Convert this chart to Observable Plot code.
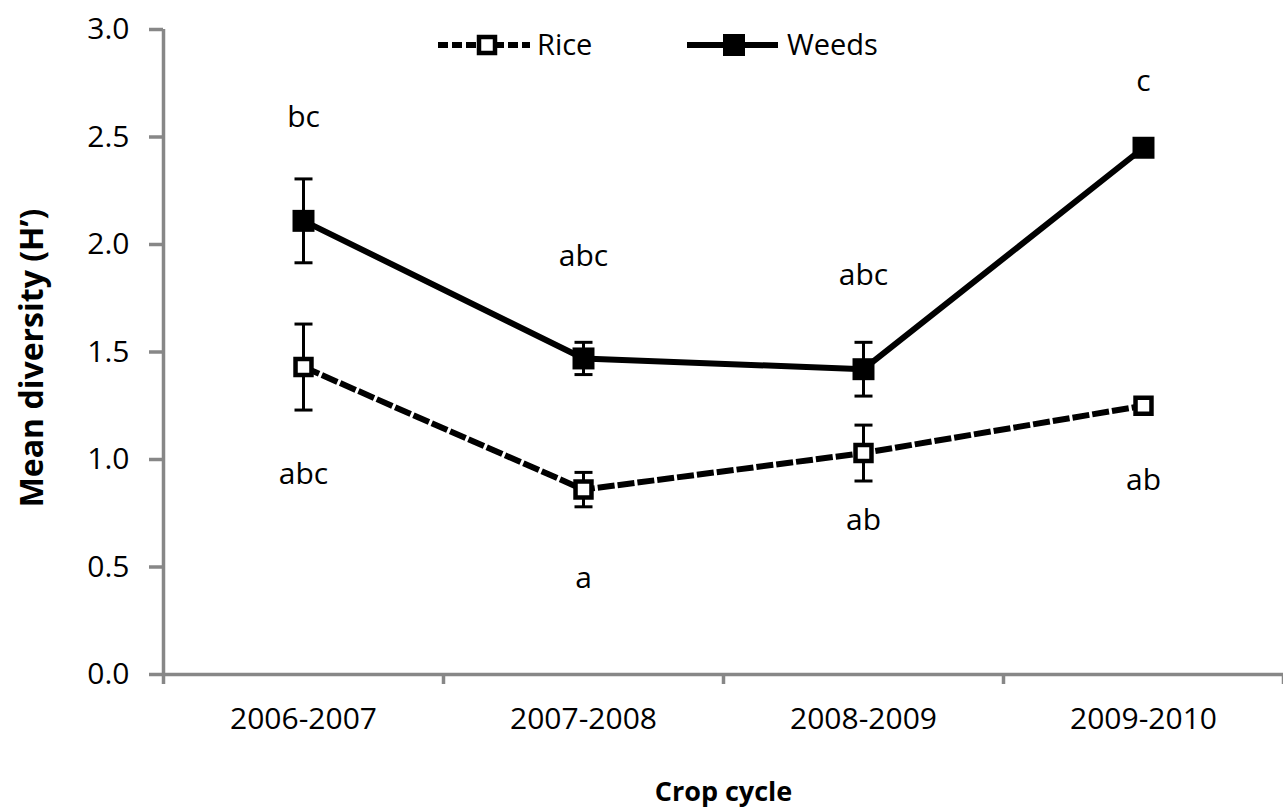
<!DOCTYPE html>
<html>
<head>
<meta charset="utf-8">
<script src="https://cdn.jsdelivr.net/npm/d3@7"></script>
<script src="https://cdn.jsdelivr.net/npm/@observablehq/plot@0.6"></script>
<style>
  html, body { margin: 0; padding: 0; background: #fff; }
  #wrap { position: relative; width: 1283px; height: 812px; }
  #legend { position: absolute; left: 0; top: 0; pointer-events: none; }
</style>
</head>
<body>
<div id="wrap"></div>
<script>
const categories = ["2006-2007", "2007-2008", "2008-2009", "2009-2010"];
const riceMean = [1.43, 0.86, 1.03, 1.25];
const riceErr = [0.20, 0.08, 0.13, 0];
const weedsMean = [2.11, 1.47, 1.42, 2.45];
const weedsErr = [0.195, 0.075, 0.125, 0];
const riceLetters = ["abc", "a", "ab", "ab"];
const riceLetterY = [0.93, 0.447, 0.716, 0.902];
const weedsLetters = ["bc", "abc", "abc", "c"];
const weedsLetterY = [2.59, 1.944, 1.856, 2.758];
const yTicks = [0, 0.5, 1.0, 1.5, 2.0, 2.5, 3.0];
const seriesNames = ["Rice", "Weeds"];

const pos = categories.map((c, i) => i + 0.5);
const boundaries = d3.range(categories.length + 1);

const rice = categories.map((c, i) => ({x: pos[i], m: riceMean[i], e: riceErr[i], l: riceLetters[i], ly: riceLetterY[i]}));
const weeds = categories.map((c, i) => ({x: pos[i], m: weedsMean[i], e: weedsErr[i], l: weedsLetters[i], ly: weedsLetterY[i]}));

const cap = { draw(ctx, size) { const r = Math.sqrt(size / Math.PI); ctx.moveTo(-r, 0); ctx.lineTo(r, 0); } };
const gray = "#878787";

const chart = Plot.plot({
  width: 1283,
  height: 812,
  marginLeft: 163,
  marginRight: 0,
  marginTop: 29,
  marginBottom: 138,
  style: { fontFamily: "'Open Sans', sans-serif", fontSize: "30px", background: "#fff", color: "#000" },
  x: { type: "linear", domain: [0, categories.length] },
  y: { domain: [0, 3] },
  marks: [
    Plot.axisY({ ticks: yTicks, tickSize: 14, tickPadding: 20, stroke: gray, strokeWidth: 3.5, fill: "#000", fontSize: 30, tickFormat: d3.format(".1f"), label: null }),
    Plot.axisX({ ticks: boundaries, tickSize: 10, stroke: gray, strokeWidth: 3.5, tickFormat: () => "", label: null }),
    Plot.axisX({ ticks: pos, tickSize: 0, tickPadding: 33, fill: "#000", fontSize: 30, tickFormat: d => categories[Math.floor(d)], label: null }),
    Plot.ruleX([0], { stroke: gray, strokeWidth: 3.5 }),
    Plot.ruleY([0], { stroke: gray, strokeWidth: 3.5 }),
    Plot.text(["Crop cycle"], { frameAnchor: "bottom", dy: 126, fontWeight: "bold", fontSize: 27, fill: "#000" }),
    Plot.text(["Mean diversity (H’)"], { frameAnchor: "left", textAnchor: "middle", dx: -131, dy: 6, rotate: -90, fontWeight: "bold", fontSize: 32, fill: "#000" }),
    // error bars
    Plot.ruleX(rice.filter(d => d.e > 0), { x: "x", y1: d => d.m - d.e, y2: d => d.m + d.e, stroke: "#000", strokeWidth: 3 }),
    Plot.dot(rice.filter(d => d.e > 0), { x: "x", y: d => d.m - d.e, symbol: cap, r: 9, stroke: "#000", strokeWidth: 3 }),
    Plot.dot(rice.filter(d => d.e > 0), { x: "x", y: d => d.m + d.e, symbol: cap, r: 9, stroke: "#000", strokeWidth: 3 }),
    Plot.ruleX(weeds.filter(d => d.e > 0), { x: "x", y1: d => d.m - d.e, y2: d => d.m + d.e, stroke: "#000", strokeWidth: 3 }),
    Plot.dot(weeds.filter(d => d.e > 0), { x: "x", y: d => d.m - d.e, symbol: cap, r: 9, stroke: "#000", strokeWidth: 3 }),
    Plot.dot(weeds.filter(d => d.e > 0), { x: "x", y: d => d.m + d.e, symbol: cap, r: 9, stroke: "#000", strokeWidth: 3 }),
    // lines
    Plot.line(rice, { x: "x", y: "m", stroke: "#000", strokeWidth: 6, strokeDasharray: "17,3", strokeLinecap: "butt" }),
    Plot.line(weeds, { x: "x", y: "m", stroke: "#000", strokeWidth: 6 }),
    // markers
    Plot.dot(rice, { x: "x", y: "m", symbol: "square", r: 9, fill: "#fff", stroke: "#000", strokeWidth: 4.5 }),
    Plot.dot(weeds, { x: "x", y: "m", symbol: "square", r: 12.4, fill: "#000", stroke: "none" }),
    // letters
    Plot.text(rice, { x: "x", y: "ly", text: "l", fontSize: 30, fill: "#000" }),
    Plot.text(weeds, { x: "x", y: "ly", text: "l", fontSize: 30, fill: "#000" })
  ]
});

const wrap = document.getElementById("wrap");
wrap.appendChild(chart);

// legend overlay
const lg = d3.select(wrap).append("svg").attr("id", "legend").attr("width", 1283).attr("height", 100)
  .style("font-family", "'Open Sans', sans-serif");
const items = [
  { name: seriesNames[0], x0: 438, x1: 530, cx: 487, tx: 537, dash: "10,4", open: true },
  { name: seriesNames[1], x0: 687, x1: 778, cx: 734, tx: 787, dash: null, open: false }
];
const ly = 45;
items.forEach(it => {
  const g = lg.append("g");
  g.append("line").attr("x1", it.x0).attr("x2", it.x1).attr("y1", ly).attr("y2", ly)
    .attr("stroke", "#000").attr("stroke-width", 6).attr("stroke-dasharray", it.dash);
  if (it.open) {
    g.append("rect").attr("x", it.cx - 8).attr("y", ly - 8).attr("width", 16).attr("height", 16)
      .attr("fill", "#fff").attr("stroke", "#000").attr("stroke-width", 4.5);
  } else {
    g.append("rect").attr("x", it.cx - 11).attr("y", ly - 11).attr("width", 22).attr("height", 22).attr("fill", "#000");
  }
  g.append("text").attr("x", it.tx).attr("y", ly).attr("dy", "0.35em").attr("font-size", 29).attr("fill", "#000").text(it.name);
});
</script>
</body>
</html>
